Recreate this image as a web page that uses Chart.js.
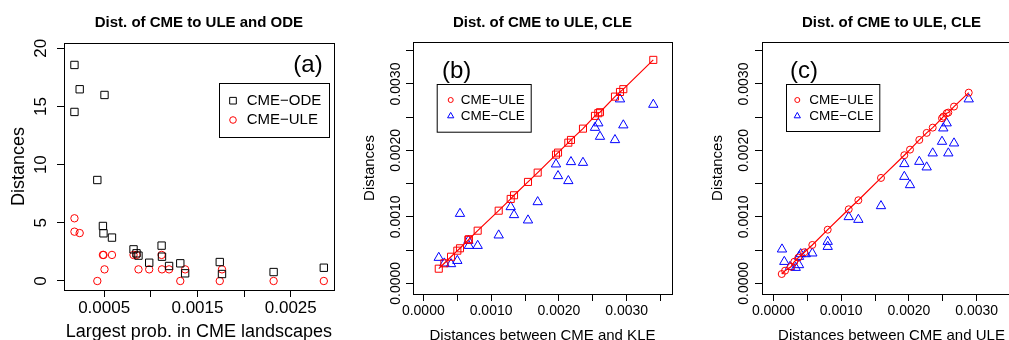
<!DOCTYPE html>
<html><head><meta charset="utf-8">
<script src="https://cdn.jsdelivr.net/npm/chart.js@4.4.1/dist/chart.umd.min.js"></script>
<style>
html,body{margin:0;padding:0;width:1009px;height:340px;overflow:hidden;background:#fff;}
canvas.p{position:absolute;top:0;}
</style></head><body>
<canvas id="ca" class="p" style="left:0px" width="340" height="340"></canvas>
<canvas id="cb" class="p" style="left:340px" width="340" height="340"></canvas>
<canvas id="cc" class="p" style="left:680px" width="360" height="340"></canvas>
<script>
// ---------- Panel (a) data ----------
const aProb = [0.000182, 0.000238, 0.000182, 0.000504, 0.000427, 0.000487, 0.000493, 0.000584, 0.000815, 0.000847, 0.000868, 0.000983, 0.001116, 0.001120, 0.001196, 0.001316, 0.001368, 0.001739, 0.001763, 0.002316, 0.002854];
const aODE  = [18.57, 16.48, 14.53, 15.99, 8.68, 4.73, 4.10, 3.73, 2.72, 2.38, 2.18, 1.57, 3.04, 2.09, 1.29, 1.52, 0.66, 1.63, 0.60, 0.77, 1.14];
const aULE  = [5.39, 4.12, 4.24, 1.00, 0.00, 2.24, 2.24, 2.24, 2.24, 2.24, 1.00, 1.00, 2.24, 1.00, 1.00, 0.00, 1.00, 0.00, 1.00, 0.00, 0.00];
const aXTicks = [0.0005, 0.0010, 0.0015, 0.0020, 0.0025];
const aXLabels = ['0.0005', '', '0.0015', '', '0.0025'];
const aYTicks = [0, 5, 10, 15, 20];
const aYLabels = ['0', '5', '10', '15', '20'];

// ---------- Panel (b) data ----------
const bKLE = [0.000228, 0.000310, 0.000409, 0.000502, 0.000541, 0.000665, 0.000672, 0.000802, 0.001112, 0.001289, 0.001338, 0.001544, 0.001687, 0.001957, 0.001987, 0.002139, 0.002178, 0.002355, 0.002532, 0.002581, 0.002606, 0.002827, 0.002901, 0.002950, 0.003392];
const bULE = [0.000220, 0.000301, 0.000400, 0.000491, 0.000527, 0.000655, 0.000663, 0.000792, 0.001093, 0.001270, 0.001325, 0.001526, 0.001666, 0.001937, 0.001967, 0.002117, 0.002158, 0.002328, 0.002520, 0.002560, 0.002575, 0.002810, 0.002880, 0.002922, 0.003363];
const bCLE = [0.000386, 0.000301, 0.000291, 0.000340, 0.001048, 0.000642, 0.000566, 0.000566, 0.000723, 0.001149, 0.001029, 0.000949, 0.001224, 0.001792, 0.001616, 0.001541, 0.001827, 0.001816, 0.002343, 0.002410, 0.002208, 0.002158, 0.002771, 0.002380, 0.002690];

// ---------- Panel (c) data ----------
const cULEx = [0.000124, 0.000173, 0.000261, 0.000310, 0.000369, 0.000457, 0.000575, 0.000802, 0.001112, 0.001254, 0.001588, 0.001932, 0.002016, 0.002153, 0.002262, 0.002351, 0.002488, 0.002507, 0.002557, 0.002581, 0.002665, 0.002882];
const cULEy = [0.000140, 0.000190, 0.000250, 0.000325, 0.000386, 0.000467, 0.000577, 0.000807, 0.001114, 0.001250, 0.001586, 0.001928, 0.002012, 0.002158, 0.002264, 0.002343, 0.002485, 0.002509, 0.002560, 0.002570, 0.002660, 0.002870];
const cCLEx = [0.000128, 0.000162, 0.000246, 0.000330, 0.000379, 0.000379, 0.000404, 0.000478, 0.000575, 0.000802, 0.000802, 0.001112, 0.001254, 0.001588, 0.001932, 0.001932, 0.002016, 0.002153, 0.002262, 0.002351, 0.002488, 0.002507, 0.002557, 0.002581, 0.002665, 0.002882];
const cCLEy = [0.000512, 0.000325, 0.000250, 0.000235, 0.000276, 0.000401, 0.000441, 0.000441, 0.000452, 0.000627, 0.000551, 0.000999, 0.000958, 0.001164, 0.001797, 0.001605, 0.001480, 0.001831, 0.001747, 0.001958, 0.002133, 0.002334, 0.002410, 0.001958, 0.002108, 0.002771];

const dTicks = [0.0000, 0.0005, 0.0010, 0.0015, 0.0020, 0.0025, 0.0030, 0.0035];
const dLabels = ['0.0000', '', '0.0010', '', '0.0020', '', '0.0030', ''];

const titles = ['Dist. of CME to ULE and ODE', 'Dist. of CME to ULE, CLE', 'Dist. of CME to ULE, CLE'];

// ---------- helpers ----------
const FONT = '"Liberation Sans", Arial, Helvetica, sans-serif';
Chart.defaults.font.family = FONT;
Chart.defaults.color = '#000';

function pts(xs, ys) { return xs.map((x, i) => ({x: x, y: ys[i]})); }

const rDecor = {
  id: 'rDecor',
  afterDraw(chart, args, o) {
    const ctx = chart.ctx, ca = chart.chartArea;
    ctx.save();
    ctx.strokeStyle = '#000'; ctx.lineWidth = 1;
    ctx.strokeRect(Math.round(ca.left) + 0.5, Math.round(ca.top) + 0.5, Math.round(ca.right - ca.left), Math.round(ca.bottom - ca.top));
    ctx.fillStyle = '#000';
    ctx.textAlign = 'center'; ctx.textBaseline = 'middle';
    ctx.font = 'bold 15px ' + FONT;
    ctx.fillText(o.title, (ca.left + ca.right) / 2, o.titleY);
    ctx.font = o.tagSize + 'px ' + FONT;
    ctx.fillText(o.tag, o.tagX, o.tagY);
    const L = o.legend;
    ctx.strokeStyle = '#000';
    ctx.strokeRect(L.x + 0.5, L.y + 0.5, L.w, L.h);
    L.items.forEach((it, i) => {
      const ds = chart.data.datasets[it.ds];
      ctx.save();
      ctx.fillStyle = 'rgba(0,0,0,0)';
      ctx.strokeStyle = ds.borderColor;
      ctx.lineWidth = 1;
      Chart.helpers.drawPoint(ctx, {pointStyle: it.style || ds.pointStyle, radius: it.r, borderWidth: 1, rotation: 0}, L.mx, L.my[i]);
      ctx.restore();
      ctx.fillStyle = '#000';
      ctx.textAlign = 'left'; ctx.textBaseline = 'middle';
      ctx.font = L.font + 'px ' + FONT;
      ctx.fillText(ds.label, L.tx, L.my[i]);
    });
    ctx.restore();
  }
};

function axis(o) {
  const vertical = o.pos === 'left';
  return {
    type: 'linear', position: o.pos, min: o.min, max: o.max,
    afterBuildTicks: s => { s.ticks = o.ticks.map(v => ({value: v})); },
    afterFit: s => { if (vertical) s.width = o.size; else s.height = o.size; },
    grid: {drawOnChartArea: false, drawTicks: true, tickLength: 7, color: '#000', lineWidth: 1},
    border: {display: true, color: '#000', width: 1},
    ticks: {
      autoSkip: false, color: '#000', font: {size: o.tickFont}, padding: o.pad,
      minRotation: vertical ? 90 : 0, maxRotation: vertical ? 90 : 0,
      crossAlign: vertical ? 'center' : 'near',
      callback: (v, i) => o.labels[i]
    },
    title: {display: true, text: o.title, color: '#000', font: {size: o.titleFont, lineHeight: 1}, padding: o.tpad}
  };
}

function makeChart(id, datasets, xo, yo, pad, deco) {
  return new Chart(document.getElementById(id), {
    type: 'scatter',
    data: {datasets: datasets},
    options: {
      responsive: false, animation: false, events: [], devicePixelRatio: 1,
      layout: {padding: pad},
      plugins: {legend: {display: false}, tooltip: {enabled: false}, rDecor: deco},
      scales: {x: axis(xo), y: axis(yo)}
    },
    plugins: [rDecor]
  });
}

function ds(label, data, color, style, r, line) {
  return {label: label, data: data, borderColor: color, backgroundColor: 'rgba(0,0,0,0)',
          pointStyle: style, pointRadius: r, pointBorderWidth: 1, pointBackgroundColor: 'rgba(0,0,0,0)',
          pointBorderColor: color, showLine: !!line, borderWidth: line ? 1.2 : 1, tension: 0};
}

// ---------- Panel (a) ----------
makeChart('ca', [
    ds('CME\u2212ODE', pts(aProb, aODE), '#000000', 'rect', 5.2, false),
    ds('CME\u2212ULE', pts(aProb, aULE), '#ff0000', 'circle', 3.7, false)
  ],
  {pos: 'bottom', min: 0.00007, max: 0.002961, ticks: aXTicks, labels: aXLabels, size: 50, tickFont: 17, pad: 1.5, title: 'Largest prob. in CME landscapes', titleFont: 18, tpad: {top: 0, bottom: -1}},
  {pos: 'left', min: -0.774, max: 20.456, ticks: aYTicks, labels: aYLabels, size: 64, tickFont: 17, pad: 6.5, title: 'Distances', titleFont: 18, tpad: {top: 10, bottom: 0}},
  {top: 43, right: 1, left: 0, bottom: 0},
  {title: titles[0], titleY: 23, tag: '(a)', tagSize: 24, tagX: 308, tagY: 65.5,
   legend: {x: 219, y: 83, w: 110, h: 54, mx: 233, tx: 246.7, my: [100.7, 120], font: 15,
            items: [{ds: 0, r: 4.7}, {ds: 1, r: 3.3}]}}
);

// ---------- Panel (b) ----------
makeChart('cb', [
    ds('CME\u2212ULE', pts(bKLE, bULE), '#ff0000', 'rect', 5, true),
    ds('CME\u2212CLE', pts(bKLE, bCLE), '#0000ff', 'triangle', 5.4, false)
  ],
  {pos: 'bottom', min: -0.000152, max: 0.003668, ticks: dTicks, labels: dLabels, size: 46, tickFont: 14, pad: 1.4, title: 'Distances between CME and KLE', titleFont: 15, tpad: {top: 0, bottom: -3}},
  {pos: 'left', min: -0.000161, max: 0.003632, ticks: dTicks, labels: dLabels, size: 73, tickFont: 14, pad: -11.4, title: 'Distances', titleFont: 15, tpad: {top: 22, bottom: 0}},
  {top: 42, right: 8, left: 0, bottom: 0},
  {title: titles[1], titleY: 23, tag: '(b)', tagSize: 24, tagX: 116.7, tagY: 71.7,
   legend: {x: 96.7, y: 84, w: 94, h: 47.7, mx: 110.7, tx: 120.7, my: [100, 116], font: 13.5,
            items: [{ds: 0, r: 2.5, style: 'circle'}, {ds: 1, r: 3.6}]}}
);

// ---------- Panel (c) ----------
makeChart('cc', [
    ds('CME\u2212ULE', pts(cULEx, cULEy), '#ff0000', 'circle', 3.5, true),
    ds('CME\u2212CLE', pts(cCLEx, cCLEy), '#0000ff', 'triangle', 5.4, false)
  ],
  {pos: 'bottom', min: -0.000167, max: 0.003653, ticks: dTicks, labels: dLabels, size: 46, tickFont: 14, pad: 1.4, title: 'Distances between CME and ULE', titleFont: 15, tpad: {top: 0, bottom: -3}},
  {pos: 'left', min: -0.000161, max: 0.003632, ticks: dTicks, labels: dLabels, size: 82, tickFont: 14, pad: -10.4, title: 'Distances', titleFont: 15, tpad: {top: 30.5, bottom: 0}},
  {top: 42, right: 19, left: 0, bottom: 0},
  {title: titles[2], titleY: 23, tag: '(c)', tagSize: 24, tagX: 124, tagY: 71.7,
   legend: {x: 106, y: 84, w: 93.3, h: 47, mx: 117.3, tx: 129.3, my: [100, 116], font: 13.5,
            items: [{ds: 0, r: 2.5}, {ds: 1, r: 3.6}]}}
);
</script>
</body></html>
